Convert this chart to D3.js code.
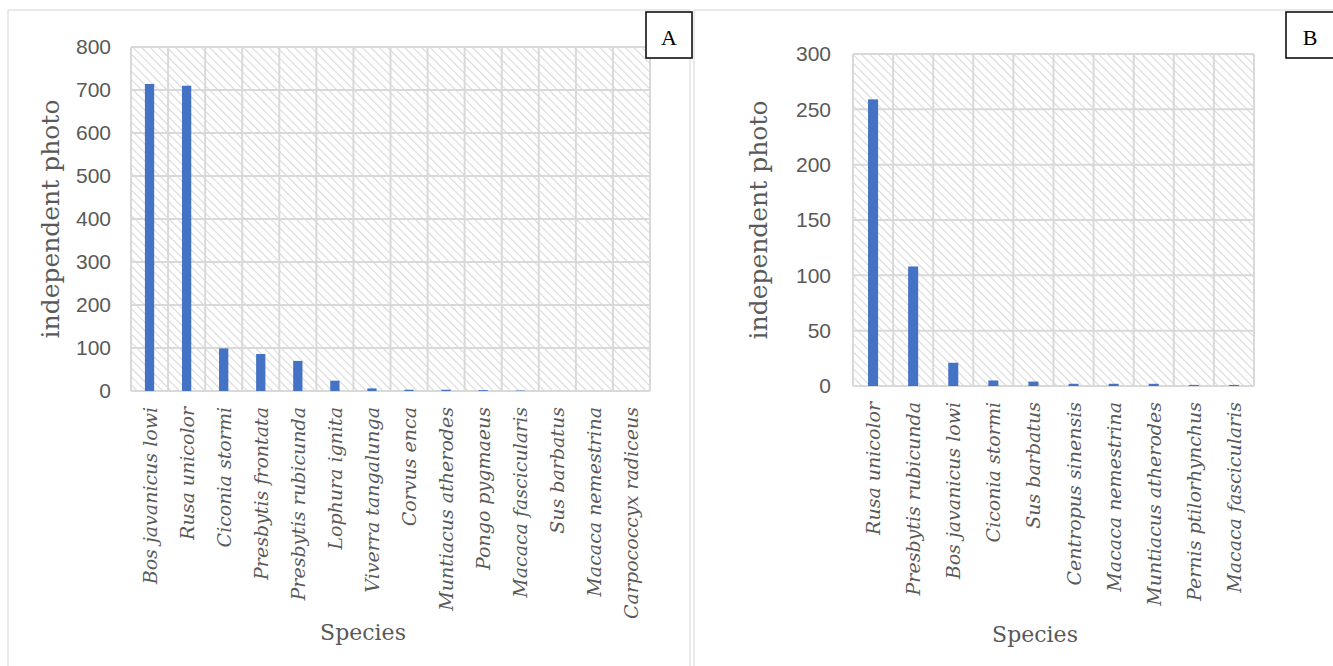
<!DOCTYPE html>
<html>
<head>
<meta charset="utf-8">
<script src="https://cdn.jsdelivr.net/npm/d3@7"></script>
<style>
  html, body { margin: 0; padding: 0; background: #fff; }
  svg { display: block; }
</style>
</head>
<body>
<svg id="chart" width="1333" height="666"></svg>
<script>
// ---- Data ----
const speciesA = ["Bos javanicus lowi", "Rusa unicolor", "Ciconia stormi", "Presbytis frontata",
  "Presbytis rubicunda", "Lophura ignita", "Viverra tangalunga", "Corvus enca",
  "Muntiacus atherodes", "Pongo pygmaeus", "Macaca fascicularis", "Sus barbatus",
  "Macaca nemestrina", "Carpococcyx radiceus"];
const photosA = [714, 710, 99, 86, 70, 24, 6, 3, 3, 2, 1, 0, 0, 0];
const ticksA = [0, 100, 200, 300, 400, 500, 600, 700, 800];

const speciesB = ["Rusa unicolor", "Presbytis rubicunda", "Bos javanicus lowi", "Ciconia stormi",
  "Sus barbatus", "Centropus sinensis", "Macaca nemestrina", "Muntiacus atherodes",
  "Pernis ptilorhynchus", "Macaca fascicularis"];
const photosB = [259, 108, 21, 5, 4, 2, 2, 2, 1, 1];
const ticksB = [0, 50, 100, 150, 200, 250, 300];

const yTitle = "independent photo";
const xTitle = "Species";

// ---- Drawing ----
const svg = d3.select("#chart");
const defs = svg.append("defs");
const pat = defs.append("pattern")
  .attr("id", "hatch").attr("patternUnits", "userSpaceOnUse")
  .attr("width", 6).attr("height", 6)
  .attr("patternTransform", "rotate(-45)");
pat.append("rect").attr("width", 6).attr("height", 6).attr("fill", "#fff");
pat.append("line").attr("x1", 0).attr("y1", 0).attr("x2", 0).attr("y2", 6)
  .attr("stroke", "#d9d9d9").attr("stroke-width", 2.2);

const grey = "#595959";
const gridCol = "#d9d9d9";
const barCol = "#4472c4";
const serif = "'DejaVu Serif', serif";
const sans = "'Liberation Sans', Arial, sans-serif";

function panel(cfg) {
  // frame
  svg.append("rect").attr("x", cfg.frame[0]).attr("y", cfg.frame[1])
    .attr("width", cfg.frame[2]).attr("height", cfg.frame[3])
    .attr("fill", "none").attr("stroke", "#dcdcdc").attr("stroke-width", 1.2);

  const x = d3.scaleBand().domain(cfg.cats).range([cfg.left, cfg.right]).paddingInner(0).paddingOuter(0);
  const y = d3.scaleLinear().domain([0, cfg.max]).range([cfg.bottom, cfg.top]);
  const g = svg.append("g");

  g.append("rect").attr("x", cfg.left).attr("y", cfg.top)
    .attr("width", cfg.right - cfg.left).attr("height", cfg.bottom - cfg.top)
    .attr("fill", "url(#hatch)");

  // horizontal gridlines
  g.selectAll(".hg").data(cfg.ticks).join("line")
    .attr("x1", cfg.left).attr("x2", cfg.right)
    .attr("y1", d => y(d)).attr("y2", d => y(d))
    .attr("stroke", gridCol).attr("stroke-width", 2);
  // vertical gridlines
  const bounds = cfg.cats.map(c => x(c)).concat([cfg.right]);
  g.selectAll(".vg").data(bounds).join("line")
    .attr("x1", d => d).attr("x2", d => d)
    .attr("y1", cfg.top).attr("y2", cfg.bottom)
    .attr("stroke", gridCol).attr("stroke-width", 2);

  // bars
  const bw = x.bandwidth() * cfg.barFrac;
  g.selectAll(".bar").data(cfg.vals).join("rect")
    .attr("x", (d, i) => x(cfg.cats[i]) + x.bandwidth() / 2 - bw / 2)
    .attr("y", d => y(d))
    .attr("width", bw)
    .attr("height", d => cfg.bottom - y(d))
    .attr("fill", barCol);

  // y axis (labels only)
  const ya = d3.axisLeft(y).tickValues(cfg.ticks).tickSize(0).tickPadding(cfg.tickPad);
  const yg = g.append("g").attr("transform", `translate(${cfg.left},0)`).call(ya);
  yg.select(".domain").remove();
  yg.selectAll("text").attr("font-family", sans).attr("font-size", 21).attr("fill", grey);

  // x axis labels
  const xa = d3.axisBottom(x).tickSize(0).tickPadding(0);
  const xg = g.append("g").attr("transform", `translate(0,${cfg.bottom})`).call(xa);
  xg.select(".domain").remove();
  xg.selectAll("text")
    .attr("font-family", serif).attr("font-style", "italic").attr("font-size", 19)
    .attr("fill", grey)
    .attr("text-anchor", "end")
    .attr("transform", `translate(7,${cfg.xLabPad}) rotate(-90)`)
    .attr("x", 0).attr("y", 0).attr("dy", 0);

  // titles
  svg.append("text")
    .attr("transform", `translate(${cfg.yTitleX},${(cfg.top + cfg.bottom) / 2}) rotate(-90)`)
    .attr("text-anchor", "middle").attr("font-family", serif).attr("font-size", 25)
    .attr("fill", grey).text(yTitle);
  svg.append("text")
    .attr("x", cfg.xTitleX).attr("y", cfg.xTitleY)
    .attr("text-anchor", "middle").attr("font-family", serif).attr("font-size", 22)
    .attr("fill", grey).text(xTitle);

  // letter box
  svg.append("rect").attr("x", cfg.box[0]).attr("y", 12).attr("width", cfg.box[1]).attr("height", 46)
    .attr("fill", "#fff").attr("stroke", "#000").attr("stroke-width", 1.5);
  svg.append("text").attr("x", cfg.box[0] + cfg.box[1] / 2).attr("y", 45)
    .attr("text-anchor", "middle").attr("font-family", "'Liberation Serif', serif").attr("font-size", 22)
    .attr("fill", "#000").text(cfg.letter);
}

panel({
  frame: [8, 10, 682, 680], cats: speciesA, vals: photosA, ticks: ticksA, max: 800,
  left: 131, right: 650, top: 47, bottom: 391, barFrac: 0.25, tickPad: 20,
  xLabPad: 16, yTitleX: 59, xTitleX: 363, xTitleY: 640, box: [646, 46], letter: "A"
});
panel({
  frame: [694, 10, 660, 680], cats: speciesB, vals: photosB, ticks: ticksB, max: 300,
  left: 853, right: 1254, top: 54, bottom: 386, barFrac: 0.25, tickPad: 22,
  xLabPad: 16, yTitleX: 767, xTitleX: 1035, xTitleY: 642, box: [1286, 48], letter: "B"
});
</script>
</body>
</html>
